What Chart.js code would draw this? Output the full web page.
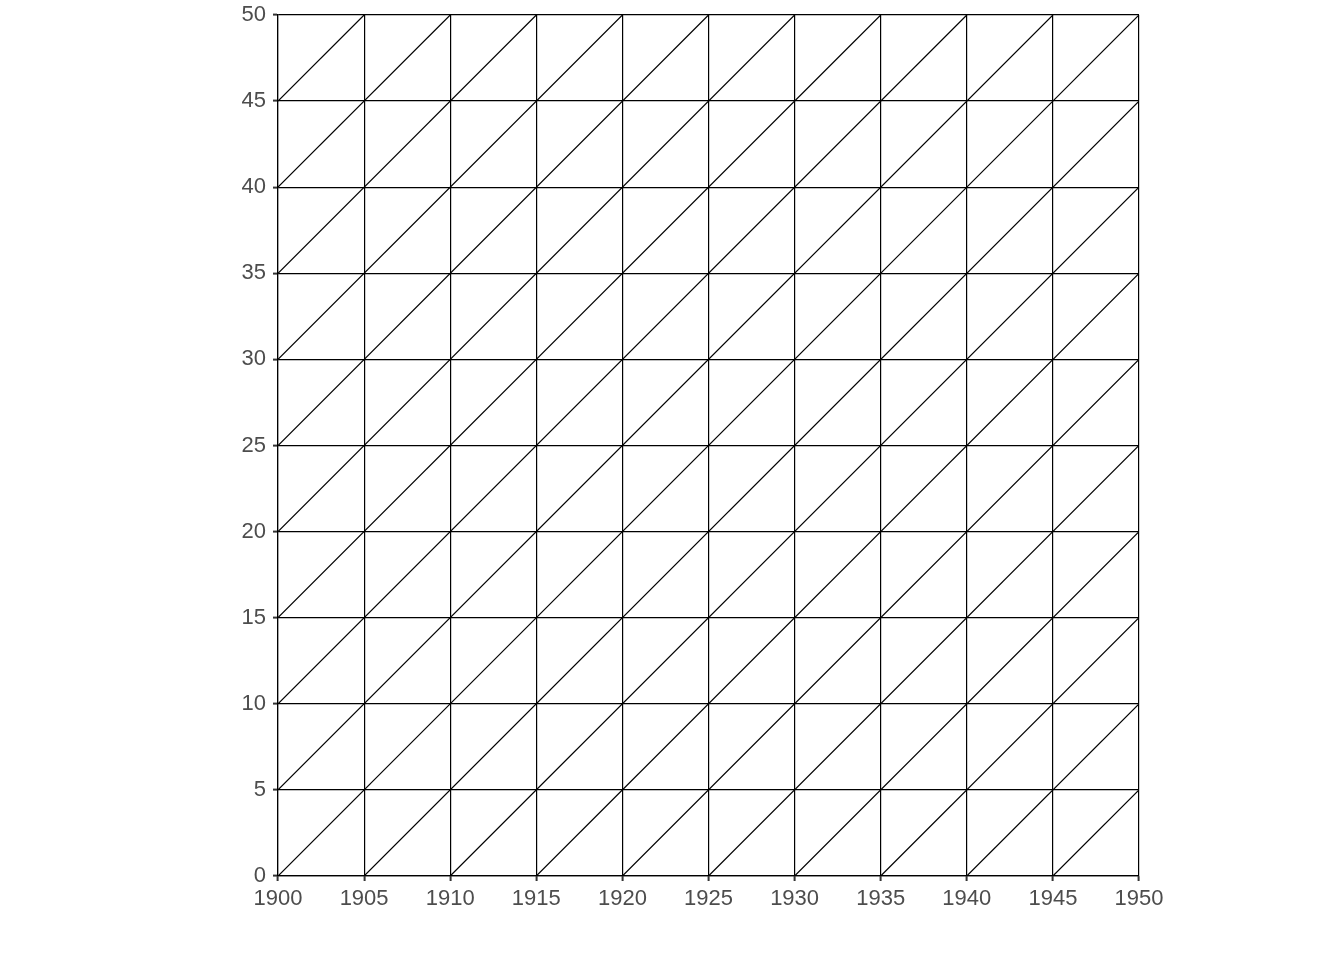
<!DOCTYPE html>
<html>
<head>
<meta charset="utf-8">
<title>Lexis grid</title>
<script src="https://cdn.jsdelivr.net/npm/chart.js@4.4.0/dist/chart.umd.min.js"></script>
<style>
  html, body { margin: 0; padding: 0; background: #fff; }
  #wrap { width: 1344px; height: 960px; }
</style>
</head>
<body>
<div id="wrap"><canvas id="lexis" width="1344" height="960"></canvas></div>
<script>
// axis ranges and tick labels
const yearTicks = [1900, 1905, 1910, 1915, 1920, 1925, 1930, 1935, 1940, 1945, 1950];
const ageTicks = [0, 5, 10, 15, 20, 25, 30, 35, 40, 45, 50];

// birth cohorts, one diagonal life line each (year - age = cohort)
const cohorts = [1855, 1860, 1865, 1870, 1875, 1880, 1885, 1890, 1895, 1900,
                 1905, 1910, 1915, 1920, 1925, 1930, 1935, 1940, 1945];

const yearMin = yearTicks[0], yearMax = yearTicks[yearTicks.length - 1];
const ageMin = ageTicks[0], ageMax = ageTicks[ageTicks.length - 1];

// clip each cohort line to the diagram box
function cohortLine(c){
  const x0 = Math.max(yearMin, c + ageMin);
  const x1 = Math.min(yearMax, c + ageMax);
  return [{ x: x0, y: x0 - c }, { x: x1, y: x1 - c }];
}

const datasets = cohorts.map(c => ({
  label: 'cohort ' + c,
  data: cohortLine(c),
  showLine: true,
  borderColor: '#000',
  borderWidth: 1.2,
  pointRadius: 0,
  fill: false
}));

const tickFont = { family: "'Liberation Sans', Arial, sans-serif", size: 22 };

new Chart(document.getElementById('lexis').getContext('2d'), {
  type: 'scatter',
  data: { datasets },
  options: {
    responsive: false,
    animation: false,
    layout: { padding: { top: 15, right: 205, bottom: 0, left: 0 } },
    plugins: { legend: { display: false }, tooltip: { enabled: false } },
    scales: {
      x: {
        type: 'linear',
        min: yearMin, max: yearMax,
        afterBuildTicks: s => { s.ticks = yearTicks.map(v => ({ value: v })); },
        afterFit: s => { s.height = 84; },
        grid: { color: '#000', lineWidth: 1.2, tickLength: 5, tickColor: '#333', tickWidth: 2 },
        border: { color: '#000', width: 1.2 },
        ticks: { color: '#4d4d4d', font: tickFont, padding: 5, maxRotation: 0, autoSkip: false,
                 callback: v => String(v) }
      },
      y: {
        type: 'linear',
        min: ageMin, max: ageMax,
        afterBuildTicks: s => { s.ticks = ageTicks.map(v => ({ value: v })); },
        // fixed axis width, and let the top label hang into the 15px margin
        afterFit: s => { s.width = 278; s.paddingTop = 0; s.paddingBottom = 0; },
        grid: { color: '#000', lineWidth: 1.2, tickLength: 5, tickColor: '#333', tickWidth: 2 },
        border: { color: '#000', width: 1.2 },
        ticks: { color: '#4d4d4d', font: tickFont, padding: 7, autoSkip: false }
      }
    }
  }
});
</script>
</body>
</html>
